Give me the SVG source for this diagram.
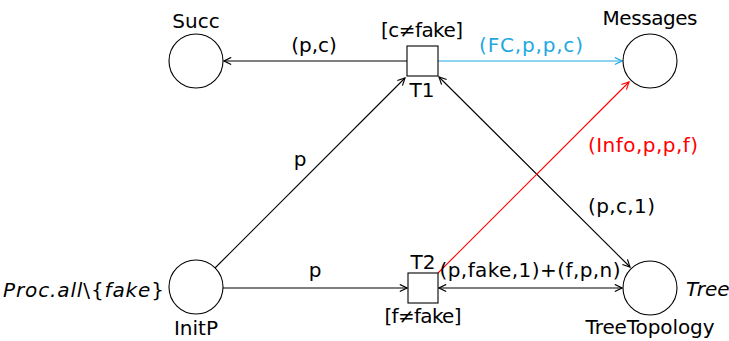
<svg xmlns="http://www.w3.org/2000/svg" width="729" height="341" viewBox="0 0 729 341">
<style>
text{font-family:"DejaVu Sans","Liberation Sans",sans-serif;font-size:20px;fill:#000}
.c{text-anchor:middle}
.i{font-style:italic}
.u{font-style:normal}
.place{fill:#fff;stroke:#000;stroke-width:1.1}
.trans{fill:#fff;stroke:#000;stroke-width:1.1}
.arc{fill:none;stroke:#000;stroke-width:1.1}
.blue{stroke:#1fa8e0}
.red{stroke:#ff0000}
</style>
<defs>
<marker id="ah" viewBox="0 0 10 10" refX="9" refY="5" markerWidth="9" markerHeight="9" markerUnits="userSpaceOnUse" orient="auto-start-reverse"><path d="M1,1 L9,5 L1,9" fill="none" stroke="#000" stroke-width="1.3"/></marker>
<marker id="ahb" viewBox="0 0 10 10" refX="9" refY="5" markerWidth="9" markerHeight="9" markerUnits="userSpaceOnUse" orient="auto"><path d="M1,1 L9,5 L1,9" fill="none" stroke="#1fa8e0" stroke-width="1.3"/></marker>
<marker id="ahr" viewBox="0 0 10 10" refX="9" refY="5" markerWidth="9" markerHeight="9" markerUnits="userSpaceOnUse" orient="auto"><path d="M1,1 L9,5 L1,9" fill="none" stroke="#ff0000" stroke-width="1.3"/></marker>
</defs>
<g id="connectors">
<line class="arc" x1="407" y1="61" x2="224" y2="61" marker-end="url(#ah)"/>
<text class="c" x="314" y="52">(p,c)</text>
<line class="arc blue" x1="438" y1="61" x2="622" y2="61" marker-end="url(#ahb)"/>
<text class="c" x="531" y="52" style="fill:#1fa8e0" textLength="104">(FC,p,p,c)</text>
<line class="arc" x1="215" y1="268" x2="405" y2="78" marker-end="url(#ah)"/>
<text class="c" x="300" y="166">p</text>
<line class="arc" x1="223" y1="288" x2="407" y2="288" marker-end="url(#ah)"/>
<text class="c" x="315" y="277">p</text>
<line class="arc" x1="439" y1="77" x2="630" y2="267" marker-start="url(#ah)" marker-end="url(#ah)"/>
<text x="588" y="213" textLength="67">(p,c,1)</text>
<line class="arc red" x1="438" y1="273" x2="629" y2="82" marker-end="url(#ahr)"/>
<text class="c" x="643" y="152" style="fill:#ff0000" textLength="110">(Info,p,p,f)</text>
<line class="arc" x1="439" y1="288" x2="622" y2="288" marker-start="url(#ah)" marker-end="url(#ah)"/>
<text class="c" x="530" y="277" textLength="181">(p,fake,1)+(f,p,n)</text>
</g>
<g id="Succ">
<circle class="place" cx="196" cy="61" r="27"/>
<text class="c" x="196" y="28">Succ</text>
</g>
<g id="Messages">
<circle class="place" cx="650" cy="61" r="27"/>
<text class="c" x="650" y="25" textLength="95">Messages</text>
</g>
<g id="InitP">
<circle class="place" cx="196" cy="287" r="27"/>
<text class="c" x="196" y="335">InitP</text>
<text class="i" x="164" y="297" text-anchor="end" textLength="161">Proc.all<tspan class="u">\{</tspan>fake<tspan class="u">}</tspan></text>
</g>
<g id="TreeTopology">
<circle class="place" cx="650" cy="288" r="27"/>
<text class="c" x="650" y="334" textLength="129">TreeTopology</text>
<text class="i" x="686" y="296">Tree</text>
</g>
<g id="T1">
<rect class="trans" x="407" y="46" width="31" height="30"/>
<text class="c" x="422" y="37" textLength="82">[c≠fake]</text>
<text class="c" x="422" y="97">T1</text>
</g>
<g id="T2">
<rect class="trans" x="408" y="273" width="30" height="30"/>
<text class="c" x="423" y="269">T2</text>
<text class="c" x="423" y="323" textLength="77">[f≠fake]</text>
</g>
</svg>
